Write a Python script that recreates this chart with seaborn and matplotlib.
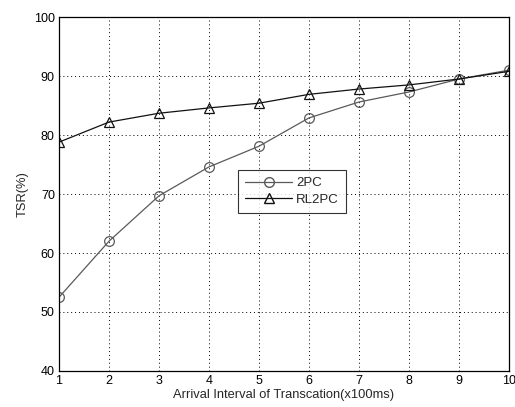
import matplotlib
matplotlib.use("Agg")
import matplotlib.pyplot as plt
import seaborn as sns
import pandas as pd
from matplotlib.lines import Line2D

x_vals = [1, 2, 3, 4, 5, 6, 7, 8, 9, 10]
tsr_2pc = [52.5, 62.0, 69.7, 74.6, 78.1, 82.9, 85.6, 87.3, 89.5, 91.0]
tsr_rl2pc = [78.8, 82.2, 83.7, 84.6, 85.4, 86.9, 87.8, 88.5, 89.5, 90.8]
series_names = ["2PC", "RL2PC"]

df = pd.DataFrame({
    "x": x_vals * 2,
    "y": tsr_2pc + tsr_rl2pc,
    "method": [series_names[0]] * len(x_vals) + [series_names[1]] * len(x_vals),
})

sns.set_style("white")
plt.rcParams['font.family'] = ['Liberation Sans', 'DejaVu Sans']

fig = plt.figure(figsize=(5.15, 4.07), dpi=100)
ax = fig.add_axes([0.1146, 0.0885, 0.8734, 0.8695])

sns.lineplot(data=df, x="x", y="y", hue="method", style="method",
             markers={"2PC": "o", "RL2PC": "^"}, dashes=False,
             palette={"2PC": "#5a5a5a", "RL2PC": "#111111"},
             linewidth=0.9, markersize=7, markerfacecolor="none",
             markeredgewidth=0.9, ax=ax, legend=False)

for line, c in zip(ax.lines, ["#5a5a5a", "#111111"]):
    line.set_markeredgecolor(c)
    line.set_markerfacecolor("none")

ax.set_xlim(1, 10)
ax.set_ylim(40, 100)
ax.set_xticks(range(1, 11))
ax.set_yticks(range(40, 101, 10))
ax.grid(True, color="black", linestyle=(0, (1, 3)), linewidth=0.7)
for s in ax.spines.values():
    s.set_color("black")
    s.set_linewidth(0.9)
ax.tick_params(axis="both", direction="in", length=3, labelsize=9, colors="black", pad=3)
ax.set_xlabel("Arrival Interval of Transcation(x100ms)", fontsize=9.3, labelpad=1)
ax.set_ylabel("TSR(%)", fontsize=9.3, labelpad=4)

handles = [
    Line2D([], [], color="#5a5a5a", marker="o", markerfacecolor="none", markersize=7, linewidth=0.9),
    Line2D([], [], color="#111111", marker="^", markerfacecolor="none", markersize=7, linewidth=0.9),
]
leg = ax.legend(handles, series_names, loc="center", bbox_to_anchor=(0.518, 0.507),
                fontsize=9.5, frameon=True, fancybox=False, edgecolor="black",
                handlelength=3.6, borderpad=0.55, labelspacing=0.35, handletextpad=0.3)
leg.get_frame().set_linewidth(0.8)

fig.savefig("out.png", dpi=100)
